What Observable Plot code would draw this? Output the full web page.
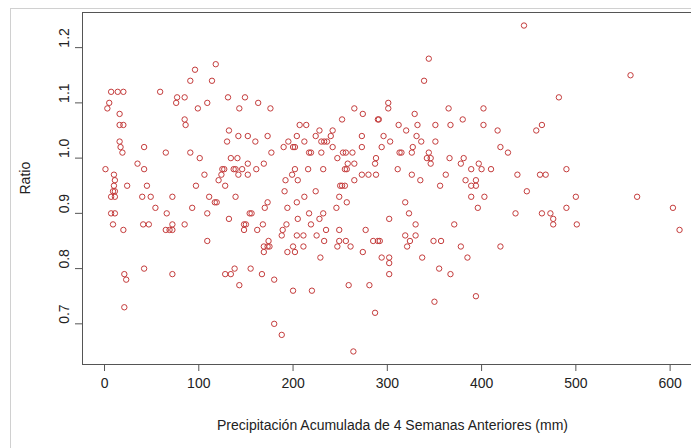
<!DOCTYPE html>
<html>
<head>
<meta charset="utf-8">
<script src="https://cdn.jsdelivr.net/npm/d3@7"></script>
<script src="https://cdn.jsdelivr.net/npm/@observablehq/plot@0.6"></script>
<style>
  html, body { margin: 0; padding: 0; background: #fff; overflow: hidden; }
  #wrap { position: relative; width: 691px; height: 448px; overflow: hidden; }
  #edge { position: absolute; left: 10px; top: 8px; right: -20px; bottom: -20px; border: 1px solid #d0d0d0; pointer-events: none; }
  #chart { position: absolute; left: 0; top: 0; }
</style>
</head>
<body>
<div id="wrap"><div id="edge"></div><div id="chart"></div></div>
<script>
// Ratio levels and the accumulated precipitation (mm) of every observation at that level
const ratioLevels = [
  1.24, 1.18, 1.17, 1.16, 1.15, 1.14, 1.12, 1.11, 1.10, 1.09, 1.08, 1.07, 1.06, 1.05,
  1.04, 1.03, 1.02, 1.01, 1.00, 0.99, 0.98, 0.97, 0.96, 0.95, 0.94, 0.93, 0.92, 0.91,
  0.90, 0.89, 0.88, 0.87, 0.86, 0.85, 0.84, 0.83, 0.82, 0.81, 0.80, 0.79, 0.78, 0.77,
  0.76, 0.75, 0.74, 0.73, 0.72, 0.70, 0.68, 0.65
];
const precipAtLevel = [
  [445],
  [344],
  [118],
  [96],
  [558],
  [91, 114, 339],
  [7, 14, 20, 59],
  [77, 85, 131, 149, 482],
  [5, 76, 109, 163, 301],
  [3, 99, 143, 176, 265, 301, 365, 402],
  [16, 274, 329],
  [85, 252, 290, 291, 380],
  [16, 20, 86, 207, 214, 312, 332, 351, 367, 402, 464],
  [132, 228, 242, 320, 417, 458],
  [142, 152, 173, 204, 224, 240, 273, 296, 331],
  [16, 130, 160, 195, 212, 230, 233, 236, 303, 336, 351],
  [17, 42, 190, 200, 202, 242, 273, 294, 327, 420],
  [19, 65, 91, 177, 217, 219, 230, 253, 256, 263, 313, 315, 326, 344, 428],
  [101, 134, 141, 247, 288, 342, 346, 366, 381],
  [35, 152, 169, 258, 265, 287, 346, 378, 397],
  [1, 42, 125, 127, 137, 139, 146, 161, 202, 216, 232, 255, 257, 311, 389, 400, 410, 490],
  [10, 106, 124, 142, 152, 199, 273, 280, 288, 326, 362, 438, 462, 468],
  [11, 121, 192, 205, 265, 335, 383, 394],
  [10, 24, 45, 97, 128, 250, 252, 255, 356, 389, 394],
  [9, 11, 191, 224, 448],
  [7, 11, 40, 49, 72, 111, 139, 212, 249, 389, 403, 500, 565],
  [117, 119, 173, 204, 257, 319],
  [54, 93, 170, 194, 246, 396, 490, 603],
  [7, 11, 66, 109, 154, 156, 217, 232, 323, 436, 464, 473],
  [132, 205, 228, 302, 476],
  [9, 41, 47, 72, 85, 148, 150, 168, 193, 219, 330, 371, 476, 501],
  [20, 65, 69, 72, 148, 162, 189, 235, 249, 277, 610],
  [188, 204, 211, 225, 319, 330],
  [109, 174, 233, 249, 256, 285, 290, 292, 324, 349, 357],
  [169, 173, 175, 200, 211, 247, 261, 321, 378, 420],
  [169, 194, 202, 274],
  [229, 294, 302, 337, 385],
  [302],
  [42, 138, 155, 355],
  [21, 72, 128, 134, 167, 302, 367],
  [23, 180],
  [143, 259, 281],
  [200, 220],
  [394],
  [350],
  [21],
  [287],
  [180],
  [188],
  [264]
];

const xTicks = [0, 100, 200, 300, 400, 500, 600];
const yTicks = [0.7, 0.8, 0.9, 1.0, 1.1, 1.2];
const xTitle = "Precipitación Acumulada de 4 Semanas Anteriores (mm)";
const yTitle = "Ratio";

const points = ratioLevels.flatMap((ratio, i) =>
  precipAtLevel[i].map(precip => ({precip, ratio}))
);

// Axis limits padded by 4% of the data range on each side
const pad = ([lo, hi]) => [lo - (hi - lo) * 0.04, hi + (hi - lo) * 0.04];
const xDomain = pad(d3.extent(points, d => d.precip));
const yDomain = pad(d3.extent(points, d => d.ratio));

const ink = "#555";
const chart = Plot.plot({
  width: 691,
  height: 448,
  marginLeft: 82,
  marginRight: -11,
  marginTop: 12,
  marginBottom: 84,
  style: {
    fontFamily: "'Liberation Sans', Arial, sans-serif",
    fontSize: "14px",
    color: "#222",
    background: "transparent"
  },
  x: {domain: xDomain, label: null},
  y: {domain: yDomain, label: null},
  marks: [
    Plot.frame({stroke: ink}),
    Plot.axisX({ticks: xTicks, tickSize: 7, tickPadding: 7, tickFormat: d => String(d), label: null, stroke: ink, fontSize: 14}),
    Plot.axisY({ticks: yTicks, tickSize: 7, tickFormat: () => "", label: null, stroke: ink}),
    Plot.text(yTicks, {y: d => d, frameAnchor: "left", dx: -18, rotate: -90, text: d => d.toFixed(1), fill: "#222", fontSize: 14}),
    Plot.text([yTitle], {frameAnchor: "left", dx: -57, dy: 6, rotate: -90, text: d => d, fill: "#222", fontSize: 14}),
    Plot.text([xTitle], {frameAnchor: "bottom", dy: 65, text: d => d, fill: "#222", fontSize: 14}),
    Plot.dot(points, {x: "precip", y: "ratio", r: 2.7, stroke: "#c43c3c", strokeWidth: 1, fill: "none"})
  ]
});
document.getElementById("chart").appendChild(chart);
</script>
</body>
</html>
